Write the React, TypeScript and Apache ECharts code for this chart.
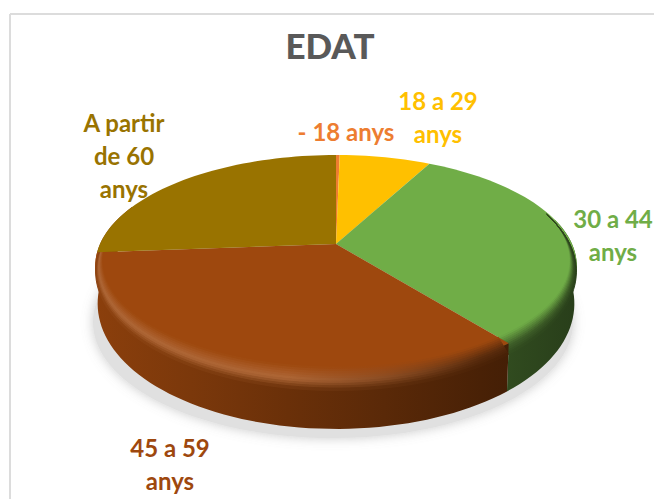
import React, { useEffect, useRef } from "react";
import * as echarts from "echarts";

const titleText = "EDAT";
const categories = ["- 18 anys", "18 a 29\nanys", "30 a 44\nanys", "45 a 59\nanys", "A partir\nde 60\nanys"];
const shares = [0.3, 7.4, 31.7, 34.4, 26.2];
const colors = ["#ED7D31", "#FFC000", "#70AD47", "#9E480E", "#997300"];
const labelCentres = [[346, 131], [438, 117], [613, 235], [170, 464], [124, 155]];

const CX = 336, CY = 244, A = 236, B = 106.6, K = 0.198;
const FONT = "Lato, Carlito, 'Open Sans', sans-serif";

function project(deg: number, r: number, h: number): number[] {
  const t = (deg * Math.PI) / 180;
  const X = r * Math.sin(t);
  const Y = -r * Math.cos(t);
  const w = 1 - K * Y;
  const shift = h * (34 + 18 * Y);
  const squeeze = 1 - 0.01 * h;
  return [CX + ((A * X) / w) * squeeze, CY + (B * Y) / w + shift];
}

function arc(from: number, to: number, r: (d: number) => number, h: (d: number) => number): number[][] {
  const pts: number[][] = [];
  const n = Math.max(1, Math.ceil((to - from) / 2));
  for (let i = 0; i <= n; i++) {
    const d = from + ((to - from) * i) / n;
    pts.push(project(d, r(d), h(d)));
  }
  return pts;
}

function rgb(hex: string): number[] {
  return [1, 3, 5].map((i) => parseInt(hex.slice(i, i + 2), 16));
}
function mix(a: number[], b: number[], t: number): number[] {
  return a.map((v, i) => v + (b[i] - v) * t);
}
function css(c: number[]): string {
  return `rgb(${c.map((v) => Math.round(v)).join(",")})`;
}

const BLACK = [0, 0, 0];
const WHITE = [255, 255, 255];
const STOPS = [0, 0.2, 0.4, 0.6, 0.8, 1];

function wallColour(base: number[], s: number): number[] {
  return mix(base, BLACK, 0.12 + 0.52 * s);
}
function rimColour(base: number[], s: number): number[] {
  const light = mix(base, WHITE, 0.17);
  if (s < 0.45) return light;
  return mix(light, mix(base, BLACK, 0.5), Math.min(1, (s - 0.45) / 0.4));
}
function horizontal(fn: (s: number) => number[]) {
  return new echarts.graphic.LinearGradient(
    95, 0, 577, 0,
    STOPS.map((s) => ({ offset: s, color: css(fn(s)) })),
    true,
  );
}

function renderSlice(params: any, api: any) {
  const index = params.dataIndex;
  const total = shares.reduce((a, b) => a + b, 0);
  const start = (shares.slice(0, index).reduce((a, b) => a + b, 0) / total) * 360;
  const end = start + (api.value(0) / total) * 360;
  const base = rgb(colors[index]);
  const children: any[] = [];
  // the slice that reaches the left extreme owns the visible edge there
  const reach = index === 3 ? 292 : end;
  const owned = start < 262;

  if (index === 0) {
    children.push({
      type: "ellipse",
      shape: { cx: 333, cy: 322, rx: 240, ry: 116 },
      style: { fill: "#e0e0e0", shadowBlur: 12, shadowColor: "rgba(140,140,140,0.45)" },
    });
  }

  // outer wall
  const wFrom = Math.max(start, 76);
  const wTo = Math.min(reach, 292);
  if (owned && wTo > wFrom) {
    const rim = arc(wFrom, wTo, () => 1, () => 0);
    const foot = arc(wFrom, wTo, () => 1, () => 1).reverse();
    children.push({
      type: "polygon",
      shape: { points: rim.concat(foot) },
      style: { fill: horizontal((s) => wallColour(base, s)) },
    });
  }

  // top face
  const top = [[CX, CY]].concat(arc(start, end, () => 1, () => 0));
  children.push({ type: "polygon", shape: { points: top }, style: { fill: colors[index] } });

  // rounded bevel along the front edge
  const bFrom = Math.max(start, 72);
  const bTo = Math.min(reach, 300);
  if (owned && bTo > bFrom) {
    const bands = 10;
    const taper = (d: number) => Math.max(0, Math.min(1, (-Math.cos((d * Math.PI) / 180) + 0.5) / 1.5));
    const prof = (t: number) => ({
      r: (d: number) => 1 - 0.06 * (1 - t) * taper(d),
      h: (d: number) => 0.26 * t * (0.2 + 0.8 * taper(d)),
    });
    for (let i = 0; i < bands; i++) {
      const t0 = i / bands;
      const t1 = (i + 1) / bands;
      const p0 = prof(t0);
      const p1 = prof(t1);
      const mid = (t0 + t1) / 2;
      const pts = arc(bFrom, bTo, p0.r, p0.h).concat(arc(bFrom, bTo, p1.r, p1.h).reverse());
      const fill = horizontal((s) =>
        mid < 0.6
          ? mix(base, rimColour(base, s), mid / 0.6)
          : mix(rimColour(base, s), wallColour(base, s), (mid - 0.6) / 0.4),
      );
      children.push({
        type: "polygon",
        shape: { points: pts },
        style: { fill, stroke: fill, lineWidth: 1 },
      });
    }
  }

  return { type: "group", children };
}

export default function App() {
  const ref = useRef<HTMLDivElement>(null);
  useEffect(() => {
    document.body.style.margin = "0";
    const chart = echarts.init(ref.current!, null, { renderer: "svg" });
    chart.setOption({
      animation: false,
      backgroundColor: "#ffffff",
      title: {
        text: titleText,
        left: 325,
        top: 22,
        textAlign: "center",
        textStyle: { color: "#595959", fontFamily: FONT, fontWeight: 900, fontSize: 35 },
      },
      graphic: [
        { type: "line", shape: { x1: 10, y1: 14, x2: 654, y2: 14 }, style: { stroke: "#dcdcdc", lineWidth: 2 } },
        { type: "line", shape: { x1: 10, y1: 14, x2: 10, y2: 499 }, style: { stroke: "#dcdcdc", lineWidth: 2 } },
        ...categories.map((name, i) => ({
          type: "text",
          x: labelCentres[i][0],
          y: labelCentres[i][1],
          z: 10,
          style: {
            text: name,
            fill: colors[i],
            font: `bold 24px ${FONT}`,
            lineHeight: 33,
            align: "center",
            verticalAlign: "middle",
          },
        })),
      ],
      series: [
        {
          type: "custom",
          coordinateSystem: "none",
          renderItem: renderSlice,
          data: shares.map((value, i) => ({ name: categories[i], value: [value] })),
        },
      ],
    });
    return () => chart.dispose();
  }, []);
  return <div ref={ref} style={{ width: 654, height: 499 }} />;
}
